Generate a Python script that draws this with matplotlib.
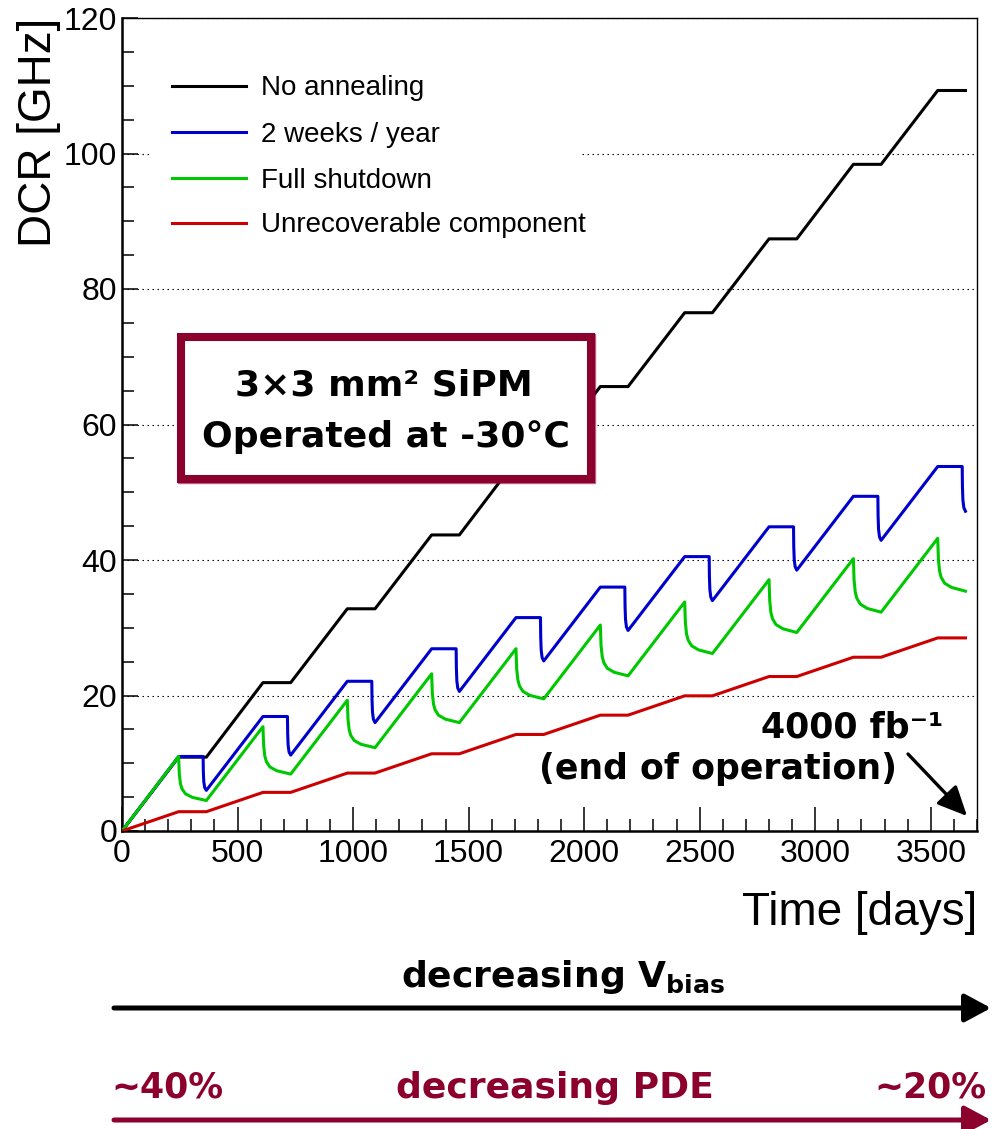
import matplotlib
matplotlib.use("Agg")
import matplotlib.pyplot as plt
from matplotlib.patches import Rectangle, FancyArrowPatch
from matplotlib.ticker import MultipleLocator

plt.rcParams['font.family'] = ['Liberation Sans', 'DejaVu Sans']

# values: DCR [GHz] vs time [days]
black_days = [0, 245, 365, 610, 730, 975, 1095, 1340, 1460, 1705, 1825,
              2070, 2190, 2435, 2555, 2800, 2920, 3165, 3285, 3530, 3650]
black_dcr = [0, 10.9, 10.9, 21.9, 21.9, 32.8, 32.8, 43.7, 43.7, 54.7, 54.7,
             65.6, 65.6, 76.5, 76.5, 87.4, 87.4, 98.4, 98.4, 109.3, 109.3]

red_days = black_days
red_dcr = [0, 2.85, 2.85, 5.7, 5.7, 8.55, 8.55, 11.4, 11.4, 14.25, 14.25,
           17.1, 17.1, 19.95, 19.95, 22.8, 22.8, 25.65, 25.65, 28.5, 28.5]

blue_days = [0,
             245, 351, 352, 354, 358, 365,
             610, 716, 717, 719, 723, 730,
             975, 1081, 1082, 1084, 1088, 1095,
             1340, 1446, 1447, 1449, 1453, 1460,
             1705, 1811, 1812, 1814, 1818, 1825,
             2070, 2176, 2177, 2179, 2183, 2190,
             2435, 2541, 2542, 2544, 2548, 2555,
             2800, 2906, 2907, 2909, 2913, 2920,
             3165, 3271, 3272, 3274, 3278, 3285,
             3530, 3636, 3637, 3639, 3643, 3650]
blue_dcr = [0,
            11.0, 11.0, 8.75, 7.25, 6.4, 6.0,
            16.9, 16.9, 14.34, 12.63, 11.66, 11.2,
            22.1, 22.1, 19.36, 17.53, 16.49, 16.0,
            26.9, 26.9, 24.07, 22.18, 21.1, 20.6,
            31.5, 31.5, 28.62, 26.7, 25.61, 25.1,
            36.0, 36.0, 33.12, 31.2, 30.11, 29.6,
            40.5, 40.5, 37.58, 35.63, 34.52, 34.0,
            44.9, 44.9, 42.02, 40.1, 39.01, 38.5,
            49.4, 49.4, 46.48, 44.53, 43.42, 42.9,
            53.8, 53.8, 50.83, 48.85, 47.73, 47.2]

green_days = [0,
              245, 248, 253, 260, 275, 305, 365,
              610, 613, 618, 625, 640, 670, 730,
              975, 978, 983, 990, 1005, 1035, 1095,
              1340, 1343, 1348, 1355, 1370, 1400, 1460,
              1705, 1708, 1713, 1720, 1735, 1765, 1825,
              2070, 2073, 2078, 2085, 2100, 2130, 2190,
              2435, 2438, 2443, 2450, 2465, 2495, 2555,
              2800, 2803, 2808, 2815, 2830, 2860, 2920,
              3165, 3168, 3173, 3180, 3195, 3225, 3285,
              3530, 3533, 3538, 3545, 3560, 3590, 3650]
green_dcr = [0,
             11.0, 8.4, 6.97, 6.19, 5.48, 4.96, 4.5,
             15.4, 12.6, 11.06, 10.22, 9.45, 8.89, 8.4,
             19.3, 16.5, 14.96, 14.12, 13.35, 12.79, 12.3,
             23.2, 20.32, 18.74, 17.87, 17.08, 16.5, 16.0,
             26.9, 23.94, 22.31, 21.42, 20.61, 20.02, 19.5,
             30.4, 27.4, 25.75, 24.85, 24.03, 23.43, 22.9,
             33.8, 30.76, 29.09, 28.18, 27.34, 26.73, 26.2,
             37.1, 33.98, 32.26, 31.33, 30.47, 29.85, 29.3,
             40.2, 37.04, 35.3, 34.35, 33.49, 32.85, 32.3,
             43.2, 40.08, 38.36, 37.43, 36.57, 35.95, 35.4]

labels = ['No annealing', '2 weeks / year', 'Full shutdown', 'Unrecoverable component']
colors = ['black', '#0000cc', '#00c800', '#cc0000']
maroon = '#8c002e'

W, H = 992, 1129
fig = plt.figure(figsize=(W / 100, H / 100), dpi=100)

def fx(px):
    return px / W

def fy(py):
    return 1 - py / H

# axes box: x 122..977, y 18..831 (pixels)
ax = fig.add_axes([fx(122), fy(831), (977 - 122) / W, (831 - 18) / H])
ax.set_xlim(0, 3700)
ax.set_ylim(0, 120)

ax.xaxis.set_major_locator(MultipleLocator(500))
ax.xaxis.set_minor_locator(MultipleLocator(100))
ax.yaxis.set_major_locator(MultipleLocator(20))
ax.yaxis.set_minor_locator(MultipleLocator(5))
ax.tick_params(axis='x', which='major', direction='in', length=17, width=1.1,
               labelsize=23, pad=6)
ax.tick_params(axis='x', which='minor', direction='in', length=8.6, width=1.1)
ax.tick_params(axis='y', which='major', direction='in', length=11.5, width=1.1,
               labelsize=23, pad=3.5)
ax.tick_params(axis='y', which='minor', direction='in', length=8.6, width=1.1)
for s in ['left', 'bottom']:
    ax.spines[s].set_linewidth(1.8)
for s in ['top', 'right']:
    ax.spines[s].set_linewidth(1.0)

ax.grid(axis='y', which='major', color='black', lw=0.8, ls=(0, (1.3, 3.2)), zorder=1)
ax.set_axisbelow(True)

series = [(black_days, black_dcr), (blue_days, blue_dcr),
          (green_days, green_dcr), (red_days, red_dcr)]
for (d, v), c in zip(series, colors):
    ax.plot(d, v, color=c, lw=2.2, zorder=4)

ax.set_xlabel('Time [days]', fontsize=33, ha='right', va='baseline')
ax.xaxis.set_label_coords(1.0, (831 - 925) / 813)
ax.set_ylabel('DCR [GHz]', fontsize=33, ha='right', va='baseline')
ax.yaxis.set_label_coords((51 - 122) / 855, 1.0)

# legend drawn by hand (ROOT style box, text overflows the white box)
ax.add_patch(Rectangle((fx(152), fy(250)), fx(580) - fx(152), fy(60) - fy(250),
                       transform=fig.transFigure, fc='white', ec='none', zorder=5))
line_y = [86, 132.3, 177.7, 222.7]
text_y = [95, 141.7, 187.7, 231.7]
for lab, c, ly, ty in zip(labels, colors, line_y, text_y):
    ax.plot([fx(172), fx(246)], [fy(ly), fy(ly)], transform=fig.transFigure,
            color=c, lw=2.2, zorder=6, clip_on=False)
    fig.text(fx(261), fy(ty), lab, fontsize=20, va='baseline', zorder=6)

# annotation box with rough maroon frame
ax.add_patch(Rectangle((fx(181), fy(479)), fx(591) - fx(181), fy(337) - fy(479),
                       transform=fig.transFigure, fc='white', ec=maroon, lw=5.8,
                       zorder=7, clip_on=False))
ax.add_patch(Rectangle((fx(177.5), fy(482.5)), fx(595) - fx(177.5), fy(333.5) - fy(482.5),
                       transform=fig.transFigure, fc='none', ec=maroon, lw=1.0,
                       alpha=0.6, zorder=7, clip_on=False))
bold = dict(family=['DejaVu Sans'], weight='bold')
fig.text(fx(384), fy(396), '3×3 mm² SiPM', fontsize=26, ha='center', va='baseline',
         zorder=8, **bold)
fig.text(fx(386), fy(447), 'Operated at -30°C', fontsize=26, ha='center', va='baseline',
         zorder=8, **bold)

fig.text(fx(943), fy(738), '4000 fb⁻¹', fontsize=25, ha='right', va='baseline', **bold)
fig.text(fx(897), fy(779), '(end of operation)', fontsize=25, ha='right', va='baseline',
         **bold)
fig.add_artist(FancyArrowPatch((fx(908), fy(754)), (fx(967), fy(816)),
                               transform=fig.transFigure,
                               arrowstyle='-|>,head_length=0.9,head_width=0.42',
                               mutation_scale=20, lw=2.4, color='black',
                               shrinkA=0, shrinkB=0))

# arrows below the plot
fig.text(fx(401), fy(987), r'decreasing $\mathbf{V_{bias}}$', fontsize=26,
         va='baseline', **bold)
fig.add_artist(FancyArrowPatch((fx(114), fy(1008)), (fx(991), fy(1008)),
                               transform=fig.transFigure,
                               arrowstyle='-|>,head_length=0.8,head_width=0.43',
                               mutation_scale=20, lw=3.6, color='black',
                               shrinkA=0, shrinkB=0))
fig.text(fx(111), fy(1098), '~40%', fontsize=25, color=maroon, va='baseline', **bold)
fig.text(fx(396), fy(1098), 'decreasing PDE', fontsize=26, color=maroon, va='baseline',
         **bold)
fig.text(fx(987), fy(1098), '~20%', fontsize=25, color=maroon, ha='right', va='baseline',
         **bold)
fig.add_artist(FancyArrowPatch((fx(114), fy(1120)), (fx(991), fy(1120)),
                               transform=fig.transFigure,
                               arrowstyle='-|>,head_length=0.8,head_width=0.43',
                               mutation_scale=20, lw=3.6, color=maroon,
                               shrinkA=0, shrinkB=0))

fig.savefig('out.png', dpi=100)
